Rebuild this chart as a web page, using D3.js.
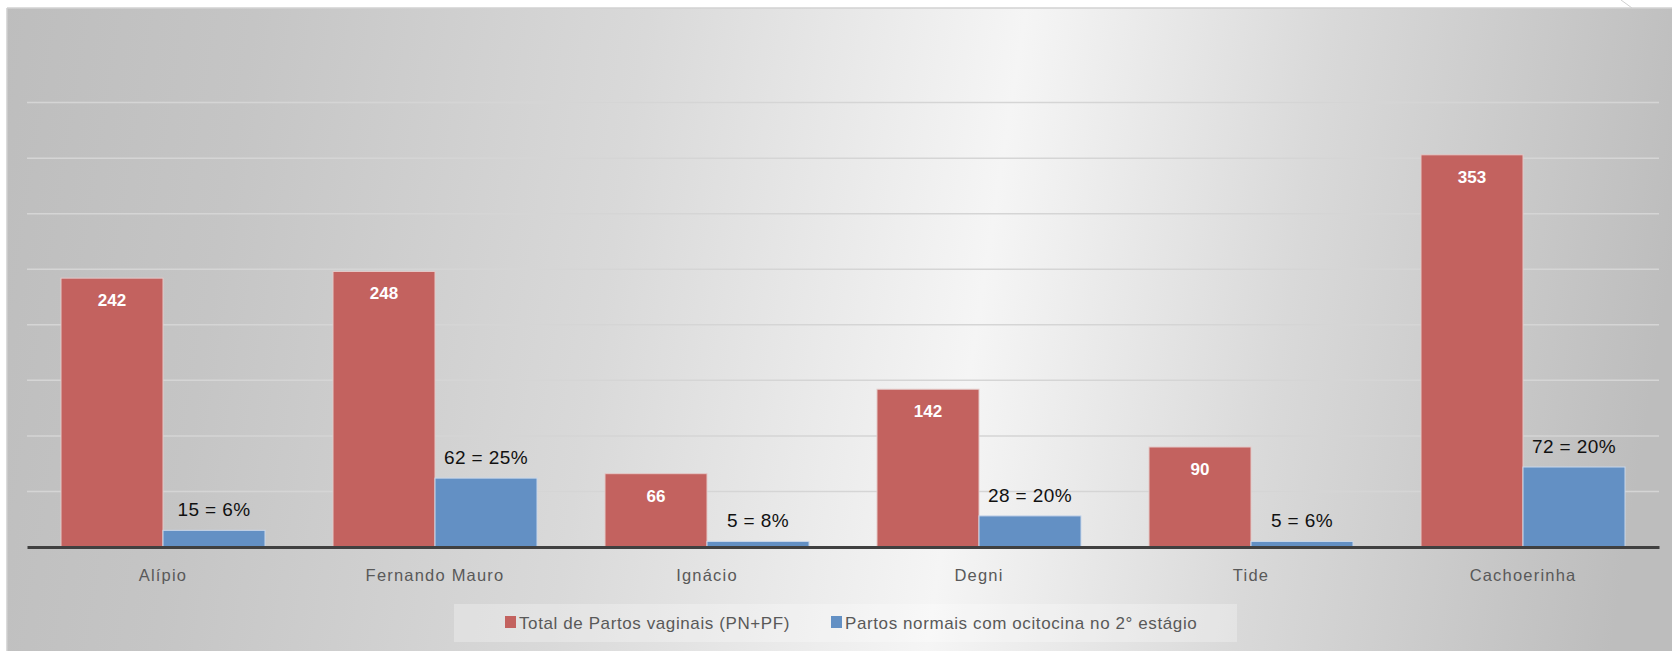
<!DOCTYPE html>
<html lang="pt">
<head>
<meta charset="utf-8">
<script src="https://cdn.jsdelivr.net/npm/d3@7"></script>
<style>
  html, body { margin: 0; padding: 0; background: #ffffff; }
  svg { display: block; }
  text { font-family: "Liberation Sans", Arial, sans-serif; }
</style>
</head>
<body>
<svg id="chart" width="1672" height="651"></svg>
<script>
// Unidades e contagens de partos
const categories = ["Alípio", "Fernando Mauro", "Ignácio", "Degni", "Tide", "Cachoerinha"];
const totalVaginais = [242, 248, 66, 142, 90, 353];
const ocitocina = [15, 62, 5, 28, 5, 72];
const ocitocinaPct = [6, 25, 8, 20, 6, 20];
const seriesNames = ["Total de Partos vaginais (PN+PF)", "Partos normais com ocitocina no 2° estágio"];
const gridTicks = [0, 50, 100, 150, 200, 250, 300, 350, 400];

const W = 1672, H = 651;
const svg = d3.select("#chart");
const defs = svg.append("defs");

// background gradient: dark at both sides, light towards the centre-right
const bg = defs.append("linearGradient")
  .attr("id", "bgGrad")
  .attr("gradientUnits", "userSpaceOnUse")
  .attr("x1", 0).attr("y1", 0).attr("x2", W).attr("y2", 260);
[[0, "#bdbdbd"], [0.15, "#c5c5c5"], [0.38, "#d9d9d9"], [0.6, "#f5f5f5"], [0.78, "#d9d9d9"], [1, "#bdbdbd"]]
  .forEach(([o, c]) => bg.append("stop").attr("offset", o).attr("stop-color", c));

svg.append("rect")
  .attr("x", 7).attr("y", 8).attr("width", W - 7).attr("height", H - 8)
  .attr("fill", "url(#bgGrad)");
svg.append("line")
  .attr("x1", 7).attr("x2", W).attr("y1", 8).attr("y2", 8)
  .attr("stroke", "#d2d2d2").attr("stroke-width", 1.5);
svg.append("line")
  .attr("x1", 7).attr("x2", 7).attr("y1", 8).attr("y2", H)
  .attr("stroke", "#cfcfcf").attr("stroke-width", 1.5);
svg.append("line")
  .attr("x1", 1621).attr("y1", 0).attr("x2", 1632).attr("y2", 8)
  .attr("stroke", "#d0d0d0").attr("stroke-width", 1);

// scales
const x0 = d3.scaleBand().domain(categories).range([27, 1659]).paddingInner(0.25).paddingOuter(0.125);
const x1 = d3.scaleBand().domain([0, 1]).range([0, x0.bandwidth()]);
const y = d3.scaleLinear().domain([0, 400]).range([547, 102.6]);

// horizontal gridlines
svg.append("g").selectAll("line")
  .data(gridTicks.filter(t => t > 0))
  .join("line")
  .attr("x1", 27).attr("x2", 1659)
  .attr("y1", d => y(d)).attr("y2", d => y(d))
  .attr("stroke", "#d5d5d5").attr("stroke-width", 1.5);

const colors = ["#c3625f", "#6390c4"];
const borders = ["#e4c9c8", "#c9d7ea"];

const groups = svg.append("g").selectAll("g")
  .data(categories)
  .join("g")
  .attr("transform", d => `translate(${x0(d)},0)`);

// red bars: total
groups.append("rect")
  .attr("x", x1(0)).attr("width", x1.bandwidth())
  .attr("y", (d, i) => y(totalVaginais[i]))
  .attr("height", (d, i) => y(0) - y(totalVaginais[i]))
  .attr("fill", colors[0]).attr("stroke", borders[0]).attr("stroke-width", 1);

// blue bars: oxytocin
groups.append("rect")
  .attr("x", x1(1)).attr("width", x1.bandwidth())
  .attr("y", (d, i) => y(ocitocina[i]))
  .attr("height", (d, i) => y(0) - y(ocitocina[i]))
  .attr("fill", colors[1]).attr("stroke", borders[1]).attr("stroke-width", 1);

// value labels inside the red bars
groups.append("text")
  .attr("x", x1(0) + x1.bandwidth() / 2)
  .attr("y", (d, i) => y(totalVaginais[i]) + 28)
  .attr("text-anchor", "middle")
  .attr("font-size", 17).attr("font-weight", "bold")
  .attr("fill", "#ffffff")
  .text((d, i) => totalVaginais[i]);

// value labels above the blue bars
groups.append("text")
  .attr("x", x1(1) + x1.bandwidth() / 2)
  .attr("y", (d, i) => y(ocitocina[i]) - 14)
  .attr("text-anchor", "middle")
  .attr("font-size", 19).attr("letter-spacing", 0.4)
  .attr("fill", "#111111")
  .text((d, i) => `${ocitocina[i]} = ${ocitocinaPct[i]}%`);

// category axis
const xAxis = svg.append("g")
  .attr("transform", `translate(0,${y(0)})`)
  .call(d3.axisBottom(x0).tickSize(0).tickPadding(22));
xAxis.select(".domain").attr("stroke", "#404040").attr("stroke-width", 3);
xAxis.selectAll("text")
  .attr("font-family", "'Liberation Sans', Arial, sans-serif")
  .attr("font-size", 16.5).attr("fill", "#595959")
  .attr("letter-spacing", 1.2);

// legend
const legend = svg.append("g");
legend.append("rect")
  .attr("x", 454).attr("y", 604).attr("width", 783).attr("height", 38)
  .attr("fill", "#ffffff").attr("fill-opacity", 0.28);
const legendX = [505, 831];
seriesNames.forEach((name, i) => {
  legend.append("rect")
    .attr("x", legendX[i]).attr("y", 616).attr("width", 11).attr("height", 12)
    .attr("fill", colors[i]);
  legend.append("text")
    .attr("x", legendX[i] + 14).attr("y", 629)
    .attr("font-size", 17).attr("fill", "#595959")
    .attr("letter-spacing", 0.6)
    .text(name);
});
</script>
</body>
</html>
